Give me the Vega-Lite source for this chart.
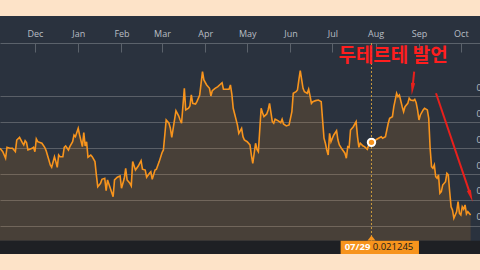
{
"$schema":"https://vega.github.io/schema/vega-lite/v6.json",
"width":480,"height":238,
"autosize":{"type":"none"},
"padding":{"top":16,"bottom":16,"left":0,"right":0},
"background":"#fde3c8",
"config":{"view":{"stroke":null,"fill":"#2a323e"},"axis":{"labelFont":"Open Sans","labelColor":"#b9bec4","labelFontSize":9}},
"data":{"values":[
{"d":"2015-11-06","v":0.021199},{"d":"2015-11-08","v":0.021173},{"d":"2015-11-10","v":0.021122},{"d":"2015-11-11","v":0.021207},{"d":"2015-11-13","v":0.021199},{"d":"2015-11-15","v":0.021199},{"d":"2015-11-17","v":0.021173},{"d":"2015-11-18","v":0.021263},{"d":"2015-11-20","v":0.021284},{"d":"2015-11-22","v":0.021243},{"d":"2015-11-23","v":0.021225},{"d":"2015-11-24","v":0.021258},{"d":"2015-11-25","v":0.021243},{"d":"2015-11-26","v":0.021186},{"d":"2015-11-29","v":0.021199},{"d":"2015-11-30","v":0.021207},
{"d":"2015-12-01","v":0.021173},{"d":"2015-12-02","v":0.021271},{"d":"2015-12-03","v":0.021250},{"d":"2015-12-06","v":0.021238},{"d":"2015-12-08","v":0.021207},{"d":"2015-12-09","v":0.021181},{"d":"2015-12-11","v":0.021109},{"d":"2015-12-12","v":0.021070},{"d":"2015-12-13","v":0.021052},{"d":"2015-12-15","v":0.021134},{"d":"2015-12-16","v":0.021096},{"d":"2015-12-17","v":0.021052},{"d":"2015-12-18","v":0.021147},{"d":"2015-12-19","v":0.021134},{"d":"2015-12-21","v":0.021134},{"d":"2015-12-22","v":0.021207},{"d":"2015-12-23","v":0.021217},{"d":"2015-12-25","v":0.021186},{"d":"2015-12-26","v":0.021212},{"d":"2015-12-28","v":0.021250},{"d":"2015-12-29","v":0.021302},{"d":"2015-12-30","v":0.021289},
{"d":"2016-01-01","v":0.021354},{"d":"2016-01-02","v":0.021302},{"d":"2016-01-04","v":0.021212},{"d":"2016-01-05","v":0.021320},{"d":"2016-01-06","v":0.021217},{"d":"2016-01-07","v":0.021250},{"d":"2016-01-08","v":0.021130},{"d":"2016-01-10","v":0.021147},{"d":"2016-01-11","v":0.021134},{"d":"2016-01-13","v":0.021096},{"d":"2016-01-14","v":0.020993},{"d":"2016-01-15","v":0.020902},{"d":"2016-01-17","v":0.020928},{"d":"2016-01-18","v":0.020959},{"d":"2016-01-20","v":0.020967},{"d":"2016-01-21","v":0.020871},{"d":"2016-01-22","v":0.020954},{"d":"2016-01-24","v":0.020890},{"d":"2016-01-26","v":0.020825},{"d":"2016-01-27","v":0.020954},{"d":"2016-01-29","v":0.020975},{"d":"2016-01-31","v":0.020985},
{"d":"2016-02-01","v":0.020890},{"d":"2016-02-03","v":0.020967},{"d":"2016-02-04","v":0.021044},{"d":"2016-02-05","v":0.020954},{"d":"2016-02-07","v":0.020928},{"d":"2016-02-08","v":0.020908},{"d":"2016-02-09","v":0.021096},{"d":"2016-02-11","v":0.021031},{"d":"2016-02-13","v":0.021062},{"d":"2016-02-15","v":0.021103},{"d":"2016-02-16","v":0.021037},{"d":"2016-02-18","v":0.021031},{"d":"2016-02-19","v":0.020975},{"d":"2016-02-21","v":0.021006},{"d":"2016-02-22","v":0.021018},{"d":"2016-02-23","v":0.020959},{"d":"2016-02-25","v":0.021031},{"d":"2016-02-26","v":0.021037},{"d":"2016-02-28","v":0.021096},
{"d":"2016-03-01","v":0.021165},{"d":"2016-03-02","v":0.021186},{"d":"2016-03-04","v":0.021418},{"d":"2016-03-06","v":0.021393},{"d":"2016-03-07","v":0.021354},{"d":"2016-03-08","v":0.021284},{"d":"2016-03-09","v":0.021354},{"d":"2016-03-11","v":0.021490},{"d":"2016-03-13","v":0.021449},{"d":"2016-03-14","v":0.021418},{"d":"2016-03-15","v":0.021393},{"d":"2016-03-17","v":0.021663},{"d":"2016-03-18","v":0.021496},{"d":"2016-03-20","v":0.021509},{"d":"2016-03-21","v":0.021527},{"d":"2016-03-22","v":0.021612},{"d":"2016-03-23","v":0.021547},{"d":"2016-03-25","v":0.021542},{"d":"2016-03-26","v":0.021560},{"d":"2016-03-28","v":0.021612},{"d":"2016-03-30","v":0.021792},{"d":"2016-03-31","v":0.021728},
{"d":"2016-04-02","v":0.021689},{"d":"2016-04-04","v":0.021663},{"d":"2016-04-05","v":0.021604},{"d":"2016-04-06","v":0.021645},{"d":"2016-04-08","v":0.021663},{"d":"2016-04-10","v":0.021676},{"d":"2016-04-12","v":0.021697},{"d":"2016-04-13","v":0.021707},{"d":"2016-04-14","v":0.021656},{"d":"2016-04-16","v":0.021656},{"d":"2016-04-18","v":0.021656},{"d":"2016-04-19","v":0.021689},{"d":"2016-04-20","v":0.021619},{"d":"2016-04-21","v":0.021509},{"d":"2016-04-24","v":0.021380},{"d":"2016-04-25","v":0.021315},{"d":"2016-04-27","v":0.021354},{"d":"2016-04-28","v":0.021289},{"d":"2016-04-29","v":0.021263},
{"d":"2016-05-01","v":0.021250},{"d":"2016-05-03","v":0.021225},{"d":"2016-05-04","v":0.021147},{"d":"2016-05-05","v":0.021083},{"d":"2016-05-07","v":0.021238},{"d":"2016-05-08","v":0.021191},{"d":"2016-05-09","v":0.021173},{"d":"2016-05-11","v":0.021509},{"d":"2016-05-12","v":0.021475},{"d":"2016-05-13","v":0.021444},{"d":"2016-05-15","v":0.021465},{"d":"2016-05-16","v":0.021496},{"d":"2016-05-17","v":0.021547},{"d":"2016-05-19","v":0.021405},{"d":"2016-05-20","v":0.021393},{"d":"2016-05-21","v":0.021424},{"d":"2016-05-23","v":0.021413},{"d":"2016-05-25","v":0.021397},{"d":"2016-05-26","v":0.021424},{"d":"2016-05-27","v":0.021387},{"d":"2016-05-29","v":0.021372},{"d":"2016-05-31","v":0.021380},
{"d":"2016-06-02","v":0.021482},{"d":"2016-06-03","v":0.021625},{"d":"2016-06-05","v":0.021637},{"d":"2016-06-06","v":0.021650},{"d":"2016-06-07","v":0.021728},{"d":"2016-06-08","v":0.021800},{"d":"2016-06-10","v":0.021663},{"d":"2016-06-11","v":0.021637},{"d":"2016-06-13","v":0.021625},{"d":"2016-06-14","v":0.021656},{"d":"2016-06-15","v":0.021604},{"d":"2016-06-16","v":0.021547},{"d":"2016-06-17","v":0.021560},{"d":"2016-06-19","v":0.021568},{"d":"2016-06-21","v":0.021573},{"d":"2016-06-23","v":0.021560},{"d":"2016-06-24","v":0.021418},{"d":"2016-06-25","v":0.021277},{"d":"2016-06-26","v":0.021238},{"d":"2016-06-27","v":0.021186},{"d":"2016-06-28","v":0.021147},{"d":"2016-06-29","v":0.021315},{"d":"2016-06-30","v":0.021250},
{"d":"2016-07-01","v":0.021277},{"d":"2016-07-02","v":0.021302},{"d":"2016-07-04","v":0.021335},{"d":"2016-07-05","v":0.021263},{"d":"2016-07-06","v":0.021225},{"d":"2016-07-08","v":0.021191},{"d":"2016-07-10","v":0.021161},{"d":"2016-07-11","v":0.021122},{"d":"2016-07-12","v":0.021212},{"d":"2016-07-13","v":0.021207},{"d":"2016-07-14","v":0.021341},{"d":"2016-07-16","v":0.021366},{"d":"2016-07-18","v":0.021405},{"d":"2016-07-19","v":0.021289},{"d":"2016-07-20","v":0.021207},{"d":"2016-07-21","v":0.021238},{"d":"2016-07-23","v":0.021217},{"d":"2016-07-24","v":0.021212},{"d":"2016-07-26","v":0.021191},{"d":"2016-07-27","v":0.021225},{"d":"2016-07-29","v":0.021245},
{"d":"2016-08-01","v":0.021263},{"d":"2016-08-03","v":0.021277},{"d":"2016-08-05","v":0.021289},{"d":"2016-08-06","v":0.021277},{"d":"2016-08-08","v":0.021289},{"d":"2016-08-10","v":0.021393},{"d":"2016-08-11","v":0.021431},{"d":"2016-08-13","v":0.021444},{"d":"2016-08-14","v":0.021521},{"d":"2016-08-16","v":0.021625},{"d":"2016-08-17","v":0.021598},{"d":"2016-08-18","v":0.021612},{"d":"2016-08-20","v":0.021521},{"d":"2016-08-21","v":0.021482},{"d":"2016-08-22","v":0.021521},{"d":"2016-08-24","v":0.021547},{"d":"2016-08-25","v":0.021586},{"d":"2016-08-26","v":0.021573},{"d":"2016-08-28","v":0.021568},{"d":"2016-08-29","v":0.021578},{"d":"2016-08-30","v":0.021552},{"d":"2016-08-31","v":0.021496},
{"d":"2016-09-01","v":0.021418},{"d":"2016-09-02","v":0.021457},{"d":"2016-09-04","v":0.021496},{"d":"2016-09-05","v":0.021509},{"d":"2016-09-07","v":0.021496},{"d":"2016-09-08","v":0.021431},{"d":"2016-09-09","v":0.021199},{"d":"2016-09-10","v":0.021057},{"d":"2016-09-11","v":0.021044},{"d":"2016-09-12","v":0.021070},{"d":"2016-09-13","v":0.020980},{"d":"2016-09-14","v":0.020967},{"d":"2016-09-15","v":0.020993},{"d":"2016-09-16","v":0.020851},{"d":"2016-09-17","v":0.020863},{"d":"2016-09-18","v":0.020915},{"d":"2016-09-20","v":0.020941},{"d":"2016-09-21","v":0.021006},{"d":"2016-09-22","v":0.020993},{"d":"2016-09-23","v":0.020863},{"d":"2016-09-24","v":0.020747},{"d":"2016-09-25","v":0.020722},{"d":"2016-09-26","v":0.020658},{"d":"2016-09-28","v":0.020709},{"d":"2016-09-29","v":0.020786},{"d":"2016-09-30","v":0.020696},
{"d":"2016-10-01","v":0.020683},{"d":"2016-10-02","v":0.020747},{"d":"2016-10-03","v":0.020727},{"d":"2016-10-04","v":0.020761},{"d":"2016-10-05","v":0.020691},{"d":"2016-10-06","v":0.020709},{"d":"2016-10-08","v":0.020683}
]},
"layer":[
 {"mark":{"type":"area","color":"#f7941d","opacity":0.15},
  "encoding":{
   "x":{"field":"d","type":"temporal","scale":{"type":"utc","domain":[{"year":2015,"month":11,"date":6,"utc":true},{"year":2016,"month":10,"date":14,"hours":17,"utc":true}]},
    "axis":{"orient":"top","offset":-27,"title":null,"format":"%b","grid":false,"tickSize":-9,"labelPadding":16,"labelBaseline":"alphabetic","labelFlush":false,"labelOverlap":false,"domainColor":"#5b626b","tickColor":"#5b626b",
     "values":[{"year":2015,"month":12,"date":1,"utc":true},{"year":2016,"month":1,"date":1,"utc":true},{"year":2016,"month":2,"date":1,"utc":true},{"year":2016,"month":3,"date":1,"utc":true},{"year":2016,"month":4,"date":1,"utc":true},{"year":2016,"month":5,"date":1,"utc":true},{"year":2016,"month":6,"date":1,"utc":true},{"year":2016,"month":7,"date":1,"utc":true},{"year":2016,"month":8,"date":1,"utc":true},{"year":2016,"month":9,"date":1,"utc":true},{"year":2016,"month":10,"date":1,"utc":true}]}},
   "y":{"field":"v","type":"quantitative","scale":{"domain":[0.020381,0.022223],"zero":false,"nice":false},
    "axis":{"orient":"right","offset":-4,"title":null,"values":[0.0206,0.0208,0.021,0.0212,0.0214,0.0216],"format":".4f","ticks":false,"domain":false,"grid":true,"gridColor":"#5a5f67","gridWidth":1,"labelPadding":0,"labelAlign":"left","labelBaseline":"alphabetic","labelOffset":-6}},
   "y2":{"datum":0.020484}}},
 {"mark":{"type":"line","color":"#f7941d","strokeWidth":1.6},
  "encoding":{"x":{"field":"d","type":"temporal"},"y":{"field":"v","type":"quantitative"}}},
 {"data":{"values":[{"part":"band"}]},"mark":{"type":"rect","color":"#1e2024"},
  "encoding":{"x":{"datum":{"year":2015,"month":11,"date":6,"utc":true}},"x2":{"datum":{"year":2016,"month":10,"date":14,"hours":17,"utc":true}},"y":{"datum":0.020381},"y2":{"datum":0.020484}}},
 {"data":{"values":[{"date":"2016-07-29","value":0.021245,"dlabel":"07/29"}]},
  "layer":[
   {"mark":{"type":"rule","color":"#c99a3e","strokeDash":[2,2],"strokeWidth":1},"encoding":{"x":{"field":"date","type":"temporal"},"y":{"datum":0.022014},"y2":{"datum":0.020484}}},
   {"mark":{"type":"point","filled":true,"color":"#f7941d","stroke":"#ffffff","strokeWidth":2,"size":55,"opacity":1},"encoding":{"x":{"field":"date","type":"temporal"},"y":{"field":"value","type":"quantitative"}}},
   {"mark":{"type":"rect","color":"#f7941d"},"encoding":{"x":{"datum":{"year":2016,"month":7,"date":6,"hours":22,"utc":true}},"x2":{"datum":{"year":2016,"month":9,"date":1,"utc":true}},"y":{"datum":0.020381},"y2":{"datum":0.020484}}},
   {"mark":{"type":"point","filled":true,"color":"#f7941d","opacity":1,"shape":"M-1,0.6L1,0.6L0,-0.6Z","size":64},"encoding":{"x":{"field":"date","type":"temporal"},"y":{"datum":0.020505}}},
   {"mark":{"type":"text","color":"#ffffff","font":"Open Sans","fontWeight":"bold","fontSize":9.5,"align":"center","baseline":"middle"},"encoding":{"x":{"datum":{"year":2016,"month":7,"date":19,"utc":true}},"y":{"datum":0.020432},"text":{"field":"dlabel"}}},
   {"mark":{"type":"text","color":"#1a1a1a","font":"Open Sans","fontSize":9.5,"align":"center","baseline":"middle"},"encoding":{"x":{"datum":{"year":2016,"month":8,"date":13,"hours":10,"utc":true}},"y":{"datum":0.020432},"text":{"field":"value","type":"quantitative","format":".6f"}}}
  ]},
 {"data":{"values":[{"note":"두테르테 발언"}]},
  "layer":[
   {"mark":{"type":"text","color":"#ff1e1e","font":"Noto Sans CJK KR","fontWeight":"bold","fontSize":19,"align":"center","baseline":"middle"},"encoding":{"x":{"datum":{"year":2016,"month":8,"date":13,"hours":10,"utc":true}},"y":{"datum":0.021917},"text":{"field":"note"}}},
   {"mark":{"type":"rule","color":"#e8201c","strokeWidth":2},"encoding":{"x":{"datum":{"year":2016,"month":8,"date":28,"hours":14,"utc":true}},"x2":{"datum":{"year":2016,"month":8,"date":27,"hours":12,"utc":true}},"y":{"datum":0.021792},"y2":{"datum":0.021681}}},
   {"mark":{"type":"point","filled":true,"color":"#e8201c","opacity":1,"shape":"M-0.35,-1L0.35,-1L0,1Z","size":144,"angle":6.4},"encoding":{"x":{"datum":{"year":2016,"month":8,"date":27,"hours":7,"utc":true}},"y":{"datum":0.021658}}},
   {"mark":{"type":"rule","color":"#e8201c","strokeWidth":2},"encoding":{"x":{"datum":{"year":2016,"month":9,"date":13,"hours":5,"utc":true}},"x2":{"datum":{"year":2016,"month":10,"date":7,"hours":5,"utc":true}},"y":{"datum":0.021625},"y2":{"datum":0.020860}}},
   {"mark":{"type":"point","filled":true,"color":"#e8201c","opacity":1,"shape":"M-0.35,-1L0.35,-1L0,1Z","size":144,"angle":341.3},"encoding":{"x":{"datum":{"year":2016,"month":10,"date":8,"hours":2,"utc":true}},"y":{"datum":0.020830}}}
  ]}
]
}
